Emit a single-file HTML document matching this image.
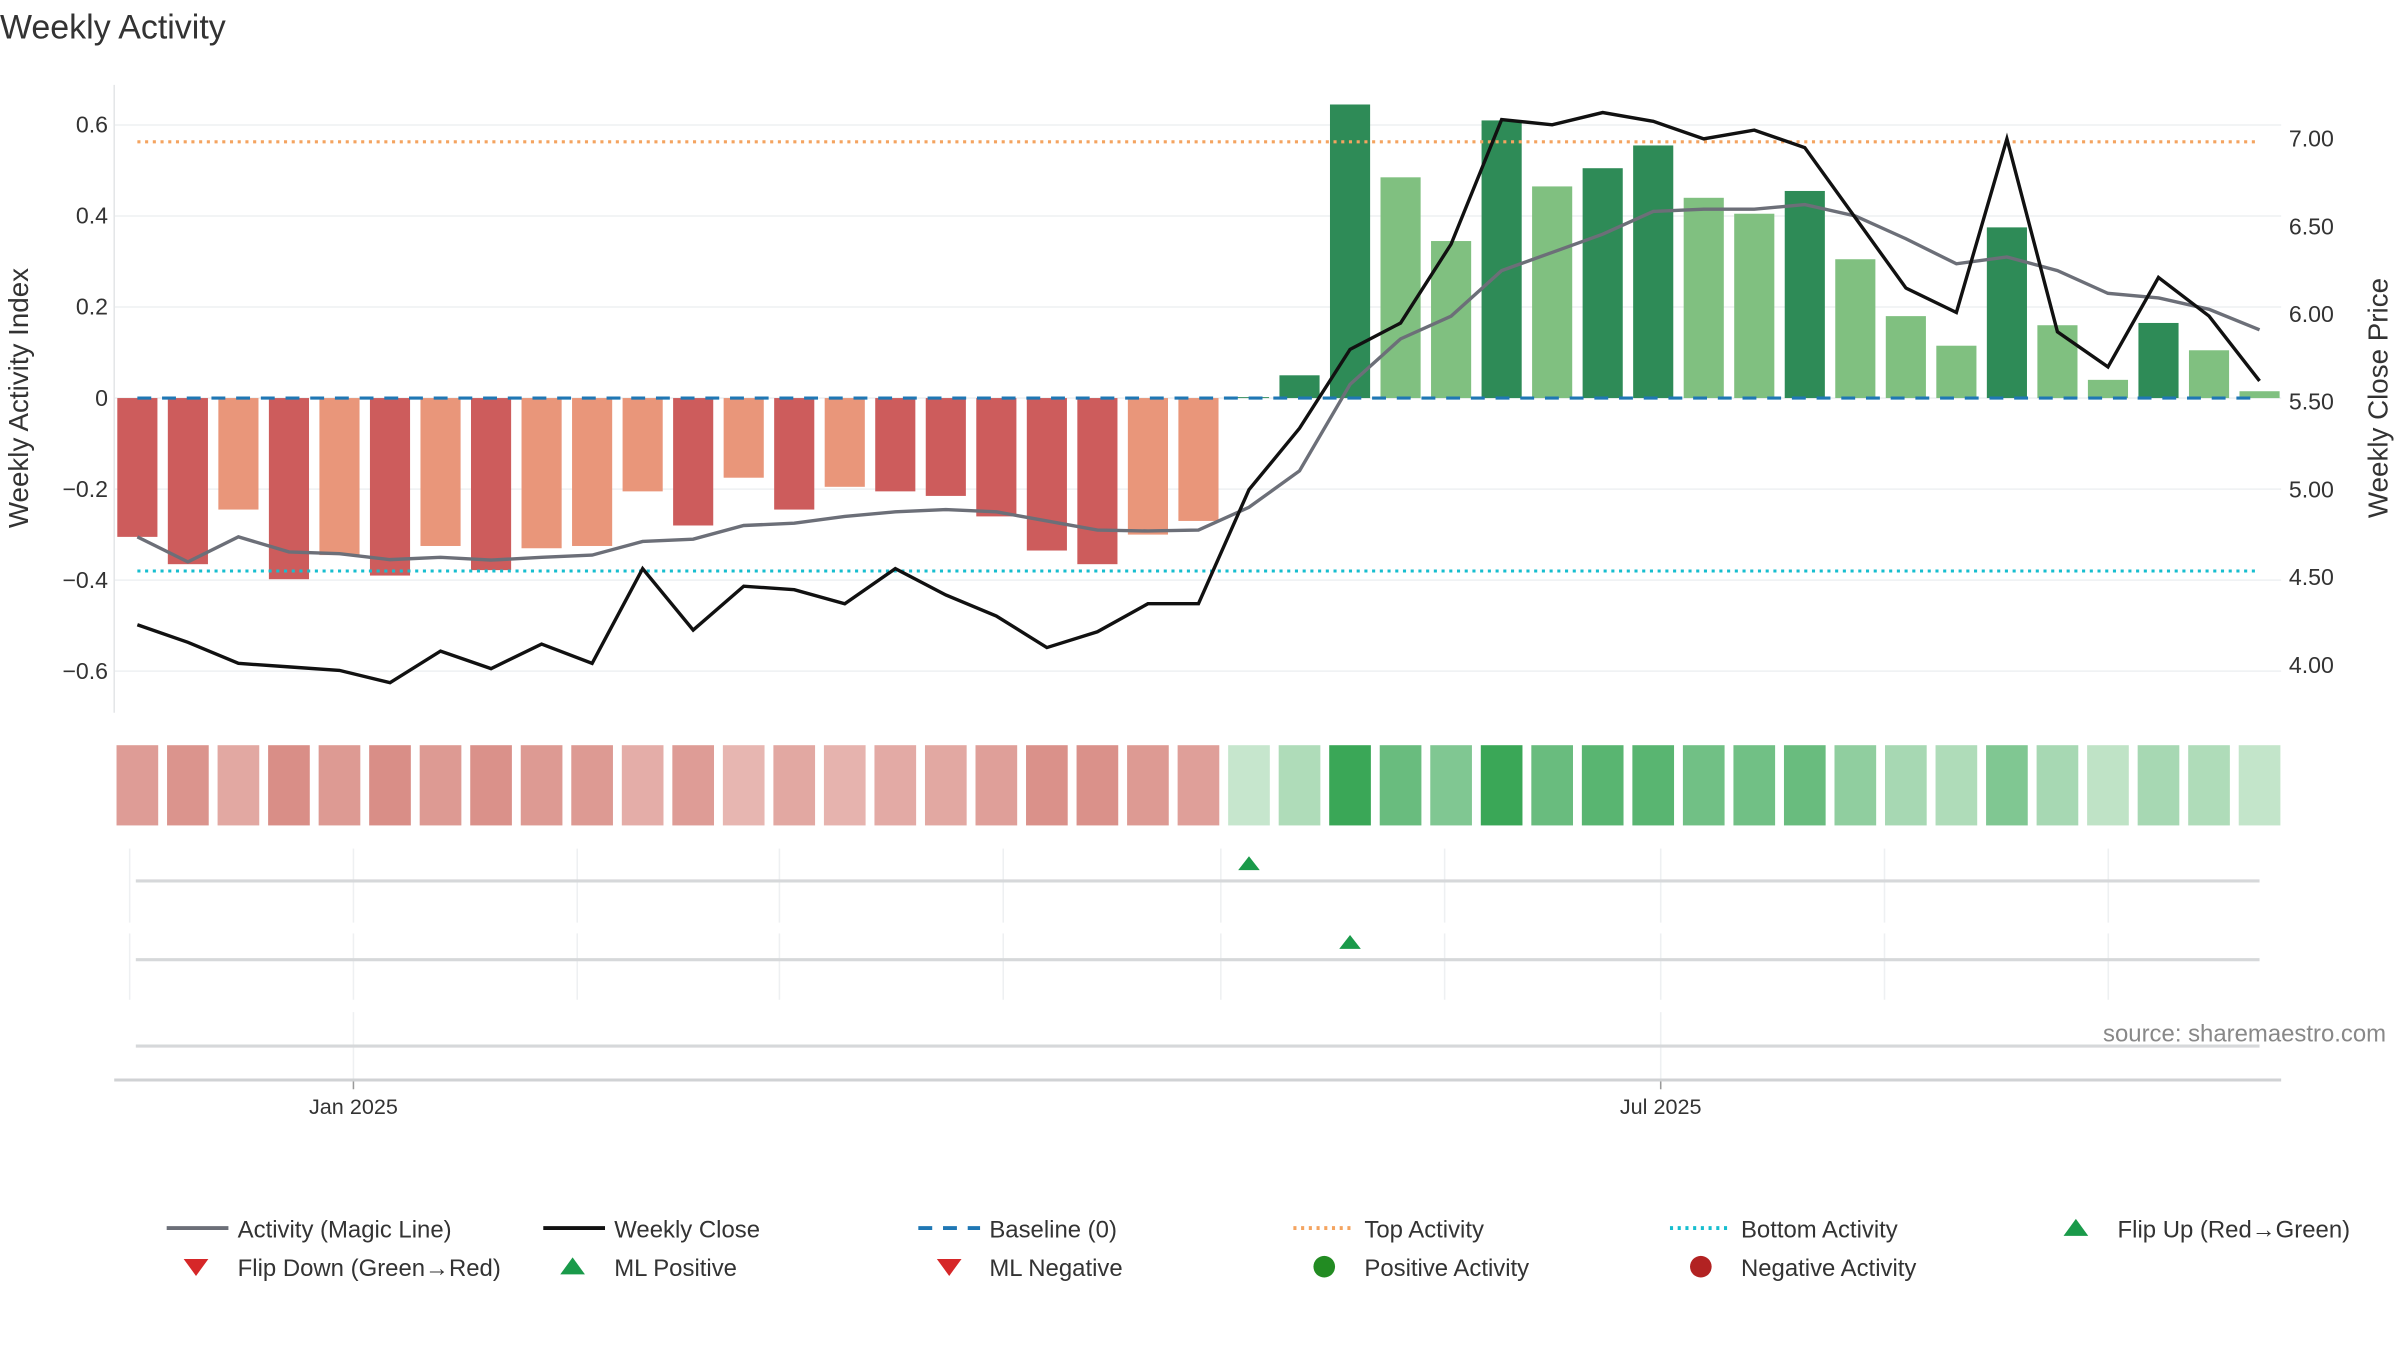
<!DOCTYPE html>
<html><head><meta charset="utf-8"><style>
html,body{margin:0;padding:0;background:#fff;}
svg{display:block;font-family:"Liberation Sans","DejaVu Sans",sans-serif;}
</style></head><body>
<svg id="chart" width="2400" height="1350" viewBox="0 0 1555 875" preserveAspectRatio="none" xmlns="http://www.w3.org/2000/svg">
<text x="0" y="25" font-size="22" fill="#333">Weekly Activity</text>
<g id="grid"></g>
<g id="bars"></g>
<g id="lines"></g>
<g id="axes"></g>
<g id="heat"></g>
<g id="panels"></g>
<text x="1546" y="675" font-size="15.5" fill="#888" text-anchor="end">source: sharemaestro.com</text>
<g id="legend"></g>
</svg>
<script>
const activity = [-0.305,-0.365,-0.245,-0.398,-0.345,-0.39,-0.325,-0.378,-0.33,-0.325,-0.205,-0.28,-0.175,-0.245,-0.195,-0.205,-0.215,-0.26,-0.335,-0.365,-0.30,-0.27,0.002,0.05,0.645,0.485,0.345,0.61,0.465,0.505,0.555,0.44,0.405,0.455,0.305,0.18,0.115,0.375,0.16,0.04,0.165,0.105,0.015];
const strong = [1,1,0,1,0,1,0,1,0,0,0,1,0,1,0,1,1,1,1,1,0,0,1,1,1,0,0,1,0,1,1,0,0,1,0,0,0,1,0,0,1,0,0];
const magicLine = [-0.305,-0.36,-0.305,-0.338,-0.342,-0.355,-0.35,-0.356,-0.35,-0.345,-0.315,-0.31,-0.28,-0.275,-0.26,-0.25,-0.245,-0.25,-0.27,-0.29,-0.292,-0.29,-0.24,-0.16,0.03,0.13,0.18,0.28,0.32,0.36,0.41,0.415,0.415,0.425,0.4,0.35,0.295,0.31,0.28,0.23,0.22,0.195,0.15];
const weeklyClose = [4.23,4.13,4.01,3.99,3.97,3.90,4.08,3.98,4.12,4.01,4.55,4.20,4.45,4.43,4.35,4.55,4.40,4.28,4.10,4.19,4.35,4.35,5.00,5.35,5.80,5.95,6.40,7.11,7.08,7.15,7.10,7.00,7.05,6.95,6.55,6.15,6.01,7.00,5.90,5.70,6.21,5.99,5.62];
const heatIntensity = [0.6,0.75,0.4,0.85,0.65,0.85,0.65,0.8,0.65,0.65,0.3,0.6,0.15,0.4,0.2,0.35,0.4,0.55,0.8,0.8,0.65,0.55,0.1,0.25,1,0.7,0.55,1,0.7,0.8,0.8,0.65,0.65,0.7,0.45,0.3,0.25,0.55,0.3,0.15,0.3,0.25,0.12];
const leftTicks = [0.6,0.4,0.2,0,-0.2,-0.4,-0.6];
const leftTickLabels = ["0.6","0.4","0.2","0","\u22120.2","\u22120.4","\u22120.6"];
const rightTicks = [7.0,6.5,6.0,5.5,5.0,4.5,4.0];
const rightTickLabels = ["7.00","6.50","6.00","5.50","5.00","4.50","4.00"];
const topActivity = 0.563;
const bottomActivity = -0.38;
const mlPositiveWeeks = [22];
const flipUpWeeks = [24];
const dateTicks = ["Jan 2025","Jul 2025"];
const dateTickX = [229,1076];

const NS="http://www.w3.org/2000/svg";
function mk(parent,tag,attrs){const e=document.createElementNS(NS,tag);for(const k in attrs)e.setAttribute(k,attrs[k]);document.getElementById(parent).appendChild(e);return e;}
const n=activity.length;
const xOf=i=>89+i*(1464-89)/(n-1);
const yL=v=>258-v*295;
const yR=p=>90+(7-p)*113.7;
const bw=26;

// grid
leftTicks.forEach((t,i)=>{
  const g=mk('grid','line',{x1:74,x2:1478,y1:yL(t),y2:yL(t),stroke:'#eef0f2','stroke-width':1});
  
  
  const tx=mk('axes','text',{x:70,y:yL(t)+5,'font-size':15,fill:'#333','text-anchor':'end'});
  tx.textContent=leftTickLabels[i];
  
  
});
rightTicks.forEach((t,i)=>{
  const tx=mk('axes','text',{x:1483,y:yR(t)+5,'font-size':15,fill:'#333'});
  tx.textContent=rightTickLabels[i];
  
  
});
const ax=mk('axes','line',{x1:74,x2:74,y1:55,y2:462,stroke:'#e4e6e8','stroke-width':1});


let t1=mk('axes','text',{x:0,y:0,'font-size':18,fill:'#333','text-anchor':'middle',transform:'translate(18,258) rotate(-90)'});
t1.textContent='Weekly Activity Index';


let t2=mk('axes','text',{x:0,y:0,'font-size':18,fill:'#333','text-anchor':'middle',transform:'translate(1547,258) rotate(-90)'});
t2.textContent='Weekly Close Price';



// bars
activity.forEach((v,i)=>{
  const pos=v>=0;
  const col=pos?(strong[i]?'#2e8b57':'#80c080'):(strong[i]?'#cd5c5c':'#e9967a');
  const y=Math.min(yL(v),yL(0)),h=Math.max(Math.abs(yL(v)-yL(0)),0.5);
  const r=mk('bars','rect',{x:xOf(i)-bw/2,y:y,width:bw,height:h,fill:col});
  
  
});
// reference lines
let l=mk('lines','line',{x1:89,x2:1464,y1:yL(0),y2:yL(0),stroke:'#1f77b4','stroke-width':2,'stroke-dasharray':'9,7'});


l=mk('lines','line',{x1:89,x2:1464,y1:yL(topActivity),y2:yL(topActivity),stroke:'#f4a460','stroke-width':2,'stroke-dasharray':'2,3'});


l=mk('lines','line',{x1:89,x2:1464,y1:yL(bottomActivity),y2:yL(bottomActivity),stroke:'#17becf','stroke-width':2,'stroke-dasharray':'2,3'});


let p=mk('lines','polyline',{points:magicLine.map((v,i)=>xOf(i)+','+yL(v)).join(' '),fill:'none',stroke:'#6c6f78','stroke-width':2.2});


p=mk('lines','polyline',{points:weeklyClose.map((v,i)=>xOf(i)+','+yR(v)).join(' '),fill:'none',stroke:'#111','stroke-width':2.2});



// heat strip
function mix(a,b,t){return 'rgb('+a.map((c,k)=>Math.round(c+(b[k]-c)*t)).join(',')+')';}
activity.forEach((v,i)=>{
  const t=heatIntensity[i];
  const col=v>=0?mix([214,237,218],[58,167,87],t):mix([234,190,186],[214,134,126],t);
  const r=mk('heat','rect',{x:xOf(i)-13.5,y:483,width:27,height:52,fill:col});
  
  
});

// panels
const panelGridX=[84,229,374,505,650,791,936,1076,1221,1366];
[[550,598,571],[605,648,622]].forEach(pn=>{
  panelGridX.forEach(gx=>{
    const g=mk('panels','line',{x1:gx,x2:gx,y1:pn[0],y2:pn[1],stroke:'#eef0f2','stroke-width':1});
    
    
  });
  const h=mk('panels','line',{x1:88,x2:1464,y1:pn[2],y2:pn[2],stroke:'#d6d8da','stroke-width':2});
  
  
});
mlPositiveWeeks.forEach(i=>{
  const x=xOf(i);
  const t=mk('panels','polygon',{points:`${x-7},564 ${x+7},564 ${x},555`,fill:'#1a9a4a'});
  
  
});
flipUpWeeks.forEach(i=>{
  const x=xOf(i);
  const t=mk('panels','polygon',{points:`${x-7},615 ${x+7},615 ${x},606`,fill:'#1a9a4a'});
  
  
});
dateTickX.forEach((gx,i)=>{
  const g=mk('panels','line',{x1:gx,x2:gx,y1:656,y2:700,stroke:'#eef0f2','stroke-width':1});
  
  
  const tk=mk('panels','line',{x1:gx,x2:gx,y1:700,y2:706,stroke:'#999','stroke-width':1});
  
  
  const tx=mk('panels','text',{x:gx,y:722,'font-size':14,fill:'#333','text-anchor':'middle'});
  tx.textContent=dateTicks[i];
  
  
});
let h3=mk('panels','line',{x1:88,x2:1464,y1:678,y2:678,stroke:'#d6d8da','stroke-width':2});


let xa=mk('panels','line',{x1:74,x2:1478,y1:700,y2:700,stroke:'#d0d2d4','stroke-width':2});



// legend
const legendItems=[
 ['line',108,796,'#6c6f78','','Activity (Magic Line)',154],
 ['line',352,796,'#111','','Weekly Close',398],
 ['line',595,796,'#1f77b4','9,7','Baseline (0)',641],
 ['line',838,796,'#f4a460','2,3','Top Activity',884],
 ['line',1082,796,'#17becf','2,3','Bottom Activity',1128],
 ['up',1345,796,'#1a9a4a','','Flip Up (Red\u2192Green)',1372],
 ['down',127,821,'#d62728','','Flip Down (Green\u2192Red)',154],
 ['up',371,821,'#1a9a4a','','ML Positive',398],
 ['down',615,821,'#d62728','','ML Negative',641],
 ['dot',858,821,'#228b22','','Positive Activity',884],
 ['dot',1102,821,'#b22222','','Negative Activity',1128]];
legendItems.forEach(it=>{
  const [k,x,y,c,d,label,tx]=it;
  let m;
  if(k==='line'){m=mk('legend','line',{x1:x,x2:x+40,y1:y,y2:y,stroke:c,'stroke-width':2.5});if(d)m.setAttribute('stroke-dasharray',d);}
  else if(k==='up'){m=mk('legend','polygon',{points:`${x-8},${y+5} ${x+8},${y+5} ${x},${y-6}`,fill:c});}
  else if(k==='down'){m=mk('legend','polygon',{points:`${x-8},${y-5} ${x+8},${y-5} ${x},${y+6}`,fill:c});}
  else {m=mk('legend','circle',{cx:x,cy:y,r:7,fill:c});}
  
  
  const t=mk('legend','text',{x:tx,y:y+6,'font-size':15.5,fill:'#333'});
  t.textContent=label;
  
  
});
</script>
</body></html>
